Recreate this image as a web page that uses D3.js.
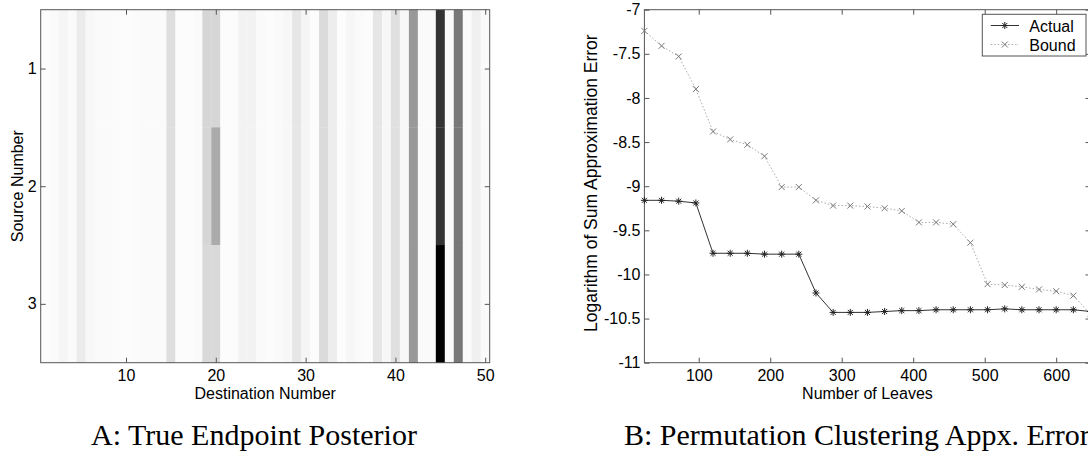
<!DOCTYPE html>
<html><head><meta charset="utf-8">
<script src="https://cdn.jsdelivr.net/npm/d3@7"></script>
<style>html,body{margin:0;padding:0;background:#fff;overflow:hidden}</style>
</head><body>
<svg id="c" width="1088" height="451"></svg>
<script>
// ---------- Panel A data ----------
const destinations = [1,2,3,4,5,6,7,8,9,10,11,12,13,14,15,16,17,18,19,20,21,22,23,24,25,26,27,28,29,30,31,32,33,34,35,36,37,38,39,40,41,42,43,44,45,46,47,48,49,50];
const sources = [1, 2, 3];
const posteriorSource1 = [0.01,0.02,0.04,0.02,0.08,0.03,0.02,0.02,0.015,0.01,0.015,0.02,0.02,0.02,0.13,0.01,0.01,0.02,0.16,0.16,0.01,0.01,0.05,0.05,0.02,0.01,0.02,0.03,0.10,0.04,0.01,0.14,0.07,0.01,0.03,0.02,0.01,0.10,0.03,0.12,0.03,0.40,0.02,0.02,0.80,0.02,0.53,0.02,0.06,0.02];
const posteriorSource2 = [0.01,0.02,0.04,0.02,0.08,0.03,0.02,0.02,0.015,0.01,0.015,0.02,0.02,0.02,0.13,0.01,0.01,0.02,0.16,0.33,0.01,0.01,0.05,0.05,0.02,0.01,0.02,0.03,0.10,0.04,0.01,0.14,0.07,0.01,0.03,0.02,0.01,0.10,0.03,0.12,0.03,0.40,0.02,0.02,0.80,0.02,0.53,0.02,0.06,0.02];
const posteriorSource3 = [0.01,0.02,0.04,0.02,0.08,0.03,0.02,0.02,0.015,0.01,0.015,0.02,0.02,0.02,0.13,0.01,0.01,0.02,0.15,0.15,0.01,0.01,0.05,0.05,0.02,0.01,0.02,0.03,0.10,0.04,0.01,0.14,0.07,0.01,0.03,0.02,0.01,0.10,0.03,0.12,0.03,0.40,0.02,0.02,1.00,0.02,0.53,0.02,0.06,0.02];
const xTicksA = [10, 20, 30, 40, 50];
const yTicksA = [1, 2, 3];

// ---------- Panel B data ----------
const leaves = [24,48,72,96,120,144,168,192,216,240,264,288,312,336,360,384,408,432,456,480,504,528,552,576,600,624,648];
const actualError = [-9.16,-9.16,-9.17,-9.19,-9.76,-9.76,-9.76,-9.77,-9.77,-9.77,-10.21,-10.43,-10.43,-10.43,-10.42,-10.41,-10.41,-10.40,-10.40,-10.40,-10.40,-10.39,-10.40,-10.40,-10.40,-10.40,-10.42];
const boundError = [-7.24,-7.41,-7.53,-7.90,-8.38,-8.47,-8.53,-8.66,-9.01,-9.01,-9.16,-9.22,-9.22,-9.23,-9.25,-9.28,-9.41,-9.41,-9.43,-9.64,-10.11,-10.12,-10.14,-10.17,-10.19,-10.24,-10.45];
const xTicksB = [100, 200, 300, 400, 500, 600];
const yTicksB = [-7, -7.5, -8, -8.5, -9, -9.5, -10, -10.5, -11];
const seriesNames = ["Actual", "Bound"];

// ---------- shared style ----------
const SANS = "'Liberation Sans', Arial, sans-serif";
const SERIF = "'Liberation Serif', 'Times New Roman', serif";
const AXC = "#555";
const svg = d3.select("#c");

function styleAxis(g, labels) {
  g.select(".domain").remove();
  g.selectAll(".tick line").attr("stroke", AXC).attr("stroke-width", 1);
  g.selectAll(".tick text").attr("font-family", SANS).attr("font-size", 16).attr("fill", "#000");
  if (!labels) g.selectAll(".tick text").remove();
}
const fmt = d => String(d);

// ================= Panel A =================
{
  const L = 40.7, R = 489.7, T = 9.7, B = 362.7;
  const x = d3.scaleLinear().domain([0.5, 50.5]).range([L, R]);
  const y = d3.scaleLinear().domain([0.5, 3.5]).range([T, B]);
  const shade = d3.scaleLinear().domain([0, 1]).range(["#ffffff", "#000000"]);
  const rows = [posteriorSource1, posteriorSource2, posteriorSource3];
  const cells = [];
  sources.forEach((s, i) => destinations.forEach((d, j) => cells.push({s, d, v: rows[i][j]})));
  const g = svg.append("g");
  g.selectAll("rect.cell").data(cells).join("rect")
    .attr("class", "cell")
    .attr("x", c => x(c.d - 0.5))
    .attr("y", c => y(c.s - 0.5))
    .attr("width", c => x(c.d + 0.5) - x(c.d - 0.5) + 0.3)
    .attr("height", c => y(c.s + 0.5) - y(c.s - 0.5) + 0.3)
    .attr("fill", c => shade(c.v));

  g.append("g").attr("transform", `translate(0,${B})`)
    .call(d3.axisBottom(x).tickValues(xTicksA).tickSize(-5).tickSizeOuter(0).tickPadding(7).tickFormat(fmt))
    .call(a => styleAxis(a, true));
  g.append("g").attr("transform", `translate(0,${T})`)
    .call(d3.axisTop(x).tickValues(xTicksA).tickSize(-5).tickSizeOuter(0))
    .call(a => styleAxis(a, false));
  g.append("g").attr("transform", `translate(${L},0)`)
    .call(d3.axisLeft(y).tickValues(yTicksA).tickSize(-5).tickSizeOuter(0).tickPadding(4).tickFormat(fmt))
    .call(a => styleAxis(a, true));
  g.append("g").attr("transform", `translate(${R},0)`)
    .call(d3.axisRight(y).tickValues(yTicksA).tickSize(-5).tickSizeOuter(0))
    .call(a => styleAxis(a, false));
  g.append("rect").attr("x", L).attr("y", T).attr("width", R - L).attr("height", B - T)
    .attr("fill", "none").attr("stroke", AXC).attr("stroke-width", 1);

  g.append("text").attr("x", (L + R) / 2).attr("y", 399).attr("text-anchor", "middle")
    .attr("font-family", SANS).attr("font-size", 16).text("Destination Number");
  g.append("text").attr("transform", `translate(23,${(T + B) / 2}) rotate(-90)`).attr("text-anchor", "middle")
    .attr("font-family", SANS).attr("font-size", 16).text("Source Number");
  g.append("text").attr("x", 254).attr("y", 445).attr("text-anchor", "middle")
    .attr("font-family", SERIF).attr("font-size", 30).text("A: True Endpoint Posterior");
}

// ================= Panel B =================
{
  const L = 644.4, R = 1090.5, T = 9.7, B = 362.7;
  const x = d3.scaleLinear().domain([24, 648]).range([L, R]);
  const y = d3.scaleLinear().domain([-7, -11]).range([T, B]);
  const g = svg.append("g");

  g.append("g").attr("transform", `translate(0,${B})`)
    .call(d3.axisBottom(x).tickValues(xTicksB).tickSize(-5).tickSizeOuter(0).tickPadding(7).tickFormat(fmt))
    .call(a => styleAxis(a, true));
  g.append("g").attr("transform", `translate(0,${T})`)
    .call(d3.axisTop(x).tickValues(xTicksB).tickSize(-5).tickSizeOuter(0))
    .call(a => styleAxis(a, false));
  g.append("g").attr("transform", `translate(${L},0)`)
    .call(d3.axisLeft(y).tickValues(yTicksB).tickSize(-5).tickSizeOuter(0).tickPadding(4).tickFormat(fmt))
    .call(a => styleAxis(a, true));
  g.append("g").attr("transform", `translate(${R},0)`)
    .call(d3.axisRight(y).tickValues(yTicksB).tickSize(-5).tickSizeOuter(0))
    .call(a => styleAxis(a, false));
  g.append("rect").attr("x", L).attr("y", T).attr("width", R - L).attr("height", B - T)
    .attr("fill", "none").attr("stroke", AXC).attr("stroke-width", 1);

  const line = d3.line().x((d, i) => x(leaves[i])).y(d => y(d));
  const starPath = (r) => {
    const a = r * 0.72;
    return `M${-r},0H${r}M0,${-r}V${r}M${-a},${-a}L${a},${a}M${-a},${a}L${a},${-a}`;
  };
  const crossPath = (r) => `M${-r},${-r}L${r},${r}M${-r},${r}L${r},${-r}`;

  // Bound (dotted, light grey, x markers)
  g.append("path").datum(boundError).attr("d", line).attr("fill", "none")
    .attr("stroke", "#aaa").attr("stroke-width", 1).attr("stroke-dasharray", "1.5,2");
  g.selectAll("path.bm").data(boundError).join("path").attr("class", "bm")
    .attr("transform", (d, i) => `translate(${x(leaves[i])},${y(d)})`)
    .attr("d", crossPath(3)).attr("stroke", "#777").attr("stroke-width", 1).attr("fill", "none");

  // Actual (solid, dark, * markers)
  g.append("path").datum(actualError).attr("d", line).attr("fill", "none")
    .attr("stroke", "#333").attr("stroke-width", 1);
  g.selectAll("path.am").data(actualError).join("path").attr("class", "am")
    .attr("transform", (d, i) => `translate(${x(leaves[i])},${y(d)})`)
    .attr("d", starPath(3.5)).attr("stroke", "#222").attr("stroke-width", 1).attr("fill", "none");

  // legend
  const lg = g.append("g");
  lg.append("rect").attr("x", 982.3).attr("y", 14.3).attr("width", 103.7).attr("height", 41.7)
    .attr("fill", "#fff").attr("stroke", AXC).attr("stroke-width", 1);
  const ly = [25.5, 44.5];
  lg.append("line").attr("x1", 990.7).attr("x2", 1019).attr("y1", ly[0]).attr("y2", ly[0]).attr("stroke", "#333");
  lg.append("path").attr("transform", `translate(1004.8,${ly[0]})`).attr("d", starPath(3.5)).attr("stroke", "#222").attr("fill", "none");
  lg.append("line").attr("x1", 990.7).attr("x2", 1019).attr("y1", ly[1]).attr("y2", ly[1]).attr("stroke", "#aaa").attr("stroke-dasharray", "1.5,2");
  lg.append("path").attr("transform", `translate(1004.8,${ly[1]})`).attr("d", crossPath(3)).attr("stroke", "#777").attr("fill", "none");
  lg.selectAll("text").data(seriesNames).join("text")
    .attr("x", 1029.3).attr("y", (d, i) => ly[i] + 6)
    .attr("font-family", SANS).attr("font-size", 16).text(d => d);

  g.append("text").attr("x", (L + R) / 2).attr("y", 399).attr("text-anchor", "middle")
    .attr("font-family", SANS).attr("font-size", 16).text("Number of Leaves");
  g.append("text").attr("transform", `translate(597,${(T + B) / 2 - 3}) rotate(-90)`).attr("text-anchor", "middle")
    .attr("font-family", SANS).attr("font-size", 17.5).text("Logarithm of Sum Approximation Error");
  g.append("text").attr("x", 624).attr("y", 445).attr("text-anchor", "start")
    .attr("font-family", SERIF).attr("font-size", 30).text("B: Permutation Clustering Appx. Error");
}
</script>
</body></html>
